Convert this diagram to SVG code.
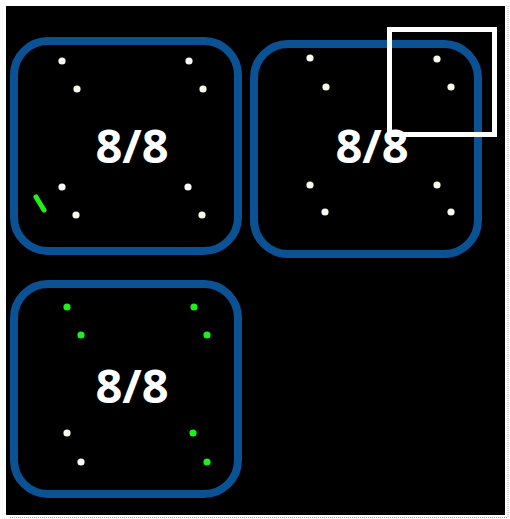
<svg xmlns="http://www.w3.org/2000/svg" width="510" height="519" viewBox="0 0 510 519">
<style>
.box{fill:none;stroke:#0b5294;stroke-width:8}
.lbl{font-family:"Open Sans","Liberation Sans",sans-serif;font-weight:bold;font-size:47px;fill:#ffffff;text-anchor:middle}
.w{fill:#f8f8ec}
.g{fill:#1ef01e}
</style>
<rect x="0" y="0" width="510" height="519" fill="#ffffff"/>
<rect x="6" y="6" width="499" height="509" fill="#000000"/>
<line x1="508" y1="6" x2="508" y2="517" stroke="#b0b0b0" stroke-width="1" stroke-dasharray="1 1"/>
<line x1="10" y1="517.5" x2="508" y2="517.5" stroke="#a0a0a0" stroke-width="1" stroke-dasharray="1 1"/>
<g id="node1">
<rect class="box" x="14" y="41" width="224" height="210" rx="34"/>
<text class="lbl" x="132" y="163">8/8</text>
<circle class="w" cx="62" cy="61" r="3.6"/><circle class="w" cx="77" cy="89" r="3.6"/>
<circle class="w" cx="189" cy="61" r="3.6"/><circle class="w" cx="203" cy="89" r="3.6"/>
<circle class="w" cx="62" cy="187" r="3.6"/><circle class="w" cx="76" cy="215" r="3.6"/>
<circle class="w" cx="188" cy="187" r="3.6"/><circle class="w" cx="202" cy="215" r="3.6"/>
<line x1="36" y1="197" x2="44" y2="210" stroke="#1ef01e" stroke-width="5" stroke-linecap="round"/>
</g>
<g id="node2">
<rect class="box" x="254" y="44" width="224" height="210" rx="34"/>
<text class="lbl" x="372" y="163">8/8</text>
<circle class="w" cx="310" cy="58" r="3.6"/><circle class="w" cx="326" cy="87" r="3.6"/>
<circle class="w" cx="437" cy="59" r="3.6"/><circle class="w" cx="451" cy="87" r="3.6"/>
<circle class="w" cx="310" cy="185" r="3.6"/><circle class="w" cx="325" cy="212" r="3.6"/>
<circle class="w" cx="437" cy="185" r="3.6"/><circle class="w" cx="451" cy="212" r="3.6"/>
</g>
<g id="node3">
<rect class="box" x="14" y="284" width="224" height="210" rx="34"/>
<text class="lbl" x="132" y="403">8/8</text>
<circle class="g" cx="67" cy="307" r="3.6"/><circle class="g" cx="81" cy="335" r="3.6"/>
<circle class="g" cx="194" cy="307" r="3.6"/><circle class="g" cx="207" cy="335" r="3.6"/>
<circle class="w" cx="67" cy="433" r="3.6"/><circle class="w" cx="81" cy="462" r="3.6"/>
<circle class="g" cx="193" cy="433" r="3.6"/><circle class="g" cx="207" cy="462" r="3.6"/>
</g>
<g id="highlight">
<rect x="389.5" y="29.5" width="105" height="105" fill="none" stroke="#ffffff" stroke-width="5"/>
</g>
<g id="connectors"></g>
</svg>
